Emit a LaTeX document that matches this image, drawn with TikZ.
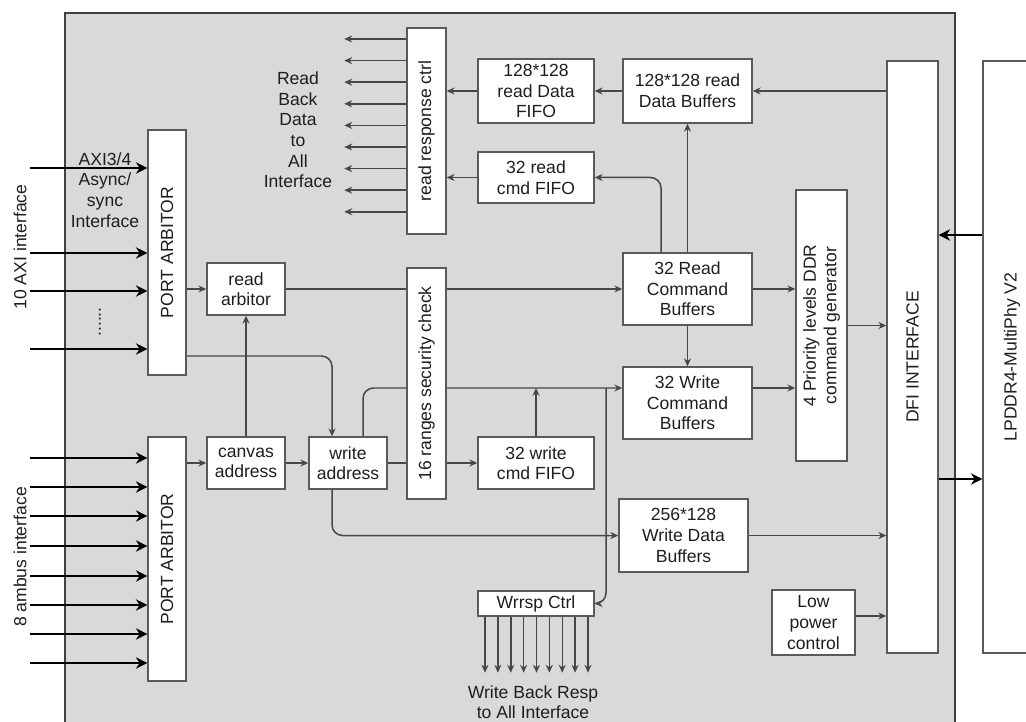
\documentclass[tikz,border=0pt]{standalone}
\usepackage{fontspec}
\setmainfont{Liberation Sans}
\usetikzlibrary{arrows.meta,backgrounds,calc}
\definecolor{panelgray}{HTML}{D9D9D9}
\definecolor{edgegray}{HTML}{5A5A5A}
\definecolor{wiregray}{HTML}{474747}
\definecolor{inkgray}{HTML}{1E1E1E}
\tikzset{
    sz/.style n args={2}{minimum width=#1*0.02cm, minimum height=#2*0.02cm},
}

\begin{document}
\begin{tikzpicture}[
        x=0.02cm, y=-0.02cm,
        font=\fontsize{10}{11.7}\selectfont,
        every node/.style={text=inkgray},
        blk/.style={draw=edgegray, line width=0.8pt, fill=white, inner sep=0pt, align=center},
        wire/.style={draw=wiregray, line width=0.85pt, -{Stealth[length=4.5pt,width=4pt]}},
        bus/.style={draw=black, line width=1.6pt, -{Stealth[length=6.5pt,width=6.5pt]}},
        vlbl/.style={rotate=90, align=center},
    ]
    \useasboundingbox (0,0) rectangle (1026,722);

    % Controller panel (runs off the bottom edge)
    \begin{scope}[on background layer]
        \fill[panelgray] (65,13) rectangle (955,760);
        \draw[line width=1.1pt, black!75] (65,760) -- (65,13) -- (955,13) -- (955,760);
    \end{scope}

    % Port arbiters
    \node[blk, sz={38}{245}, label={[vlbl]center:PORT ARBITOR}] (pa1) at (167,252.5) {};
    \node[blk, sz={38}{244}, label={[vlbl]center:PORT ARBITOR}] (pa2) at (167,559) {};

    % Address path
    \node[blk, sz={78}{52}] (ra) at (246,289) {read\\arbitor};
    \node[blk, sz={78}{52}] (ca) at (246,463) {canvas\\address};
    \node[blk, sz={78}{52}] (wa) at (348,463) {write\\address};
    \node[blk, sz={39}{231}, label={[vlbl]center:16 ranges security check}] (sec) at (426.5,383.5) {};
    \node[blk, sz={116}{52}] (wcf) at (536,463) {32 write\\cmd FIFO};

    % Read return path
    \node[blk, sz={39}{206}, label={[vlbl]center:read response ctrl}] (rrc) at (426.5,131) {};
    \node[blk, sz={116}{64}] (rdf) at (536,91) {128*128\\read Data\\FIFO};
    \node[blk, sz={116}{51}] (rcf) at (536,177.5) {32 read\\cmd FIFO};
    \node[blk, sz={129}{64}] (rdb) at (687.5,91) {128*128 read\\Data Buffers};

    % Command and data buffers
    \node[blk, sz={129}{72}] (rcb) at (687.5,289) {32 Read\\Command\\Buffers};
    \node[blk, sz={129}{72}] (wcb) at (687.5,403) {32 Write\\Command\\Buffers};
    \node[blk, sz={129}{73}] (wdb) at (683.5,535.5) {256*128\\Write Data\\Buffers};
    \node[blk, sz={116}{25}] (wrsp) at (536,603.5) {Wrrsp Ctrl};
    \node[blk, sz={83}{65}] (lp) at (813.5,622.5) {Low\\power\\control};
    \node[blk, sz={51}{271}, label={[vlbl]center:4 Priority levels DDR\\command generator}] (pri) at (821.5,325.5) {};

    % DFI and PHY
    \node[blk, sz={51}{592}, label={[vlbl]center:DFI INTERFACE}] (dfi) at (912.5,357) {};
    \node[blk, sz={58}{592}, label={[vlbl]center:LPDDR4-MultiPhy V2}] (phy) at (1012,357) {};

    % Free texts
    \node[rotate=90] (axilbl) at (20,247) {10 AXI interface};
    \node[rotate=90] (ambuslbl) at (20,557) {8 ambus interface};
    \node[align=center] (axitxt) at (105,190) {AXI3/4\\Async/\\sync\\Interface};
    \node[rotate=90] (dots) at (100,322) {......};
    \node[align=center] (rbtxt) at (298,130) {Read\\Back\\Data\\to\\All\\Interface};
    \node[align=center] (wbtxt) at (533,702) {Write Back Resp\\to All Interface};

    \coordinate (wtap) at (606,388);

    \begin{scope}[on background layer]
        % Read return
        \draw[wire] (dfi.west |- rdb) -- (rdb.east);
        \draw[wire] (rdb.west) -- (rdf.east);
        \draw[wire] (rdf.west) -- (rrc.east |- rdf);
        \draw[wire] (rcf.west) -- (rrc.east |- rcf);
        \draw[wire] (rcb.north) -- (rdb.south);
        \draw[wire, rounded corners=6] (rcb.north -| 661,0) |- (rcf.east);
        \foreach \i [evaluate=\i as \yy using 39+21.6*\i] in {0,...,8}
            \draw[wire] (rrc.west |- 0,\yy) -- ++(-62,0);

        % Arbitration and address
        \draw[wire] (pa1.east |- ra) -- (ra.west);
        \draw[wire] (pa2.east |- ca) -- (ca.west);
        \draw[wire] (ca.east) -- (wa.west);
        \draw[wire] (ca.north) -- (ra.south);
        \draw[wire] (ra.east) -- (rcb.west);
        \draw[wire, rounded corners=6] (pa1.east |- 0,356) -| (wa.north -| 332,0);
        \draw[wire, rounded corners=6] (wa.north -| 363,0) |- (wcb.west |- wtap);
        \draw[wire] (wa.east) -- (wcf.west);
        \draw[wire] (wcf.north) -- (wcf.north |- wtap);
        \draw[wire, rounded corners=6] (wtap) |- (wrsp.east);
        \draw[wire, rounded corners=6] (wa.south -| 332,0) |- (wdb.west);

        % Command generator and DFI
        \draw[wire] (rcb.south) -- (wcb.north);
        \draw[wire] (rcb.east) -- (rcb.east -| pri.west);
        \draw[wire] (wcb.east |- wtap) -- (pri.west |- wtap);
        \draw[wire] (pri.east) -- (pri.east -| dfi.west);
        \draw[wire] (wdb.east) -- (wdb.east -| dfi.west);
        \draw[wire] (lp.east |- 0,616) -- (dfi.west |- 0,616);

        % Write responses
        \foreach \i [evaluate=\i as \xx using 485+12.875*\i] in {0,...,8}
            \draw[wire] (wrsp.south -| \xx,0) -- ++(0,56);
    \end{scope}

    % Interface inputs
    \foreach \yy in {168,253,291,349}
        \draw[bus] (30,\yy) -- (pa1.west |- 0,\yy);
    \foreach \yy in {458,487,516,546,576,605,634,663}
        \draw[bus] (30,\yy) -- (pa2.west |- 0,\yy);

    % PHY links
    \draw[bus] (phy.west |- 0,235) -- (dfi.east |- 0,235);
    \draw[bus] (dfi.east |- 0,479) -- (phy.west |- 0,479);

\end{tikzpicture}
\end{document}
